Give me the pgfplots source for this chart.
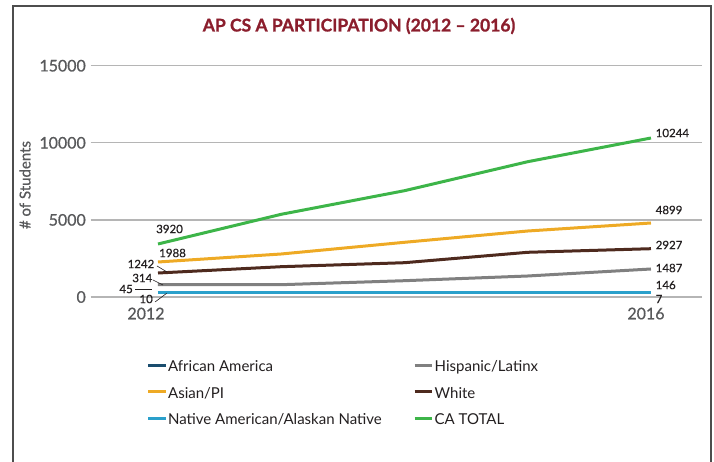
\documentclass[border=0pt]{standalone}
\usepackage{fontspec}
\setmainfont{Lato}
\newfontfamily\medfont[FakeBold=0.7]{Lato}
\newfontfamily\semfont[FakeBold=1.0]{Lato}
\usepackage{pgfplots}
\pgfplotsset{compat=1.18}
\definecolor{cafr}{HTML}{1A4D6E}
\definecolor{chis}{HTML}{808080}
\definecolor{casi}{HTML}{EEAA25}
\definecolor{cwhi}{HTML}{4E2A1E}
\definecolor{cnat}{HTML}{2AA0CB}
\definecolor{ctot}{HTML}{3DB549}
\definecolor{titlered}{HTML}{8B1E2D}
\definecolor{framegray}{HTML}{4D4D4D}
\definecolor{tickgray}{HTML}{58595B}
\definecolor{gridgray}{HTML}{B5B5B5}
\definecolor{txt}{HTML}{231F20}
\begin{document}
\begin{tikzpicture}
\useasboundingbox (0pt,0pt) rectangle (714pt,462pt);
\begin{axis}[
  at={(90.7pt,165pt)}, anchor=south west,
  scale only axis, width=611.3pt, height=231.3pt,
  xmin=2011.454, xmax=2016.414,
  ymin=0, ymax=15000,
  clip=false,
  axis line style={draw=none},
  major tick length=0pt,
  xtick={2012,2016},
  xticklabels={\hspace{-24pt}2012,\hspace{-10pt}2016},
  ytick={0,5000,10000,15000},
  ymajorgrids,
  grid style={color=gridgray, line width=1.4pt},
  /pgf/number format/assume math mode=true,
  scaled y ticks=false,
  yticklabel={\pgfmathprintnumber[fixed,1000 sep={}]{\tick}},
  tick label style={font=\medfont\fontsize{16}{19}\selectfont, text=tickgray},
  yticklabel style={inner sep=0pt, anchor=east, xshift=-4.7pt},
  xticklabel style={inner sep=0pt, anchor=north, yshift=-10.5pt},
  ylabel={\# of Students},
  ylabel style={at={(axis description cs:-0.1075,0.484)}, anchor=center, font=\medfont\fontsize{15}{18}\selectfont, text=tickgray},
  every axis plot/.append style={line width=3pt, line join=round},
  legend columns=2,
  legend cell align=left,
  legend image code/.code={\draw[#1, line width=3pt] (0pt,0.33em) -- (17.6pt,0.33em);},
  legend style={at={(axis description cs:0.0913,-0.281)}, anchor=north west, draw=none, fill=none,
    inner sep=0pt, outer sep=0pt, row sep=13.5pt, column sep=0pt,
    nodes={inner sep=0pt, text height=10pt, text depth=3pt},
    font=\fontsize{15}{17}\selectfont, text=txt},
]
\addplot[cafr] coordinates {(2012,290) (2013,290) (2014,290) (2015,290) (2016,290)};
\addlegendentry{\makebox[246pt][l]{\hspace{1pt}African America}}
\addplot[chis] coordinates {(2012,798) (2013,798) (2014,1057) (2015,1362) (2016,1816)};
\addlegendentry{\hspace{1pt}Hispanic/Latinx}
\addplot[casi] coordinates {(2012,2270) (2013,2789) (2014,3547) (2015,4280) (2016,4799)};
\addlegendentry{\makebox[246pt][l]{\hspace{1pt}Asian/PI}}
\addplot[cwhi] coordinates {(2012,1556) (2013,1965) (2014,2224) (2015,2899) (2016,3132)};
\addlegendentry{\hspace{1pt}White}
\addplot[cnat] coordinates {(2012,300) (2013,300) (2014,300) (2015,300) (2016,300)};
\addlegendentry{\makebox[246pt][l]{\hspace{1pt}Native American/Alaskan Native}}
\addplot[ctot] coordinates {(2012,3437) (2013,5363) (2014,6894) (2015,8774) (2016,10311)};
\addlegendentry{\hspace{1pt}CA TOTAL}
\end{axis}
\begin{scope}[x=1pt,y=1pt]
\draw[color=framegray, line width=2pt] (12.5,-5) -- (12.5,455.5) -- (711,455.5) -- (711,-5);
\node[text=titlered, font=\semfont\bfseries\fontsize{17.5}{20}\selectfont] at (359,436) {AP CS A PARTICIPATION (2012 – 2016)};
\begin{scope}[every node/.style={font=\medfont\fontsize{11.5}{13}\selectfont, text=txt, inner sep=0pt}]
\node[anchor=west] at (156,233) {3920};
\node[anchor=west] at (159,209) {1988};
\node[anchor=east] at (154.5,198) {1242};
\node[anchor=east] at (152.5,184) {314};
\node[anchor=east] at (133,173) {45};
\node[anchor=east] at (153,163) {10};
\node[anchor=west] at (655.5,329) {10244};
\node[anchor=west] at (655.5,252) {4899};
\node[anchor=west] at (655.5,217) {2927};
\node[anchor=west] at (655.5,194) {1487};
\node[anchor=west] at (655.5,177) {146};
\node[anchor=west] at (655.5,163) {7};
\end{scope}
\begin{scope}[color=txt, line width=0.6pt]
\draw (157,196) -- (167,190);
\draw (153,182) -- (163,177);
\draw (135,172.5) -- (152,172.5);
\draw (155,160) -- (166.7,168.7);
\end{scope}
\end{scope}
\end{tikzpicture}
\end{document}
